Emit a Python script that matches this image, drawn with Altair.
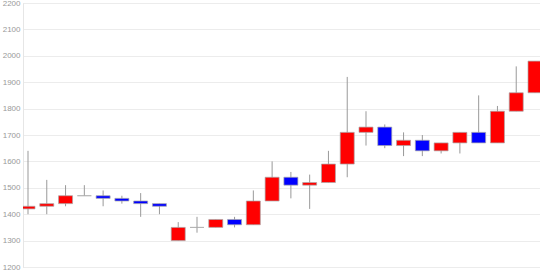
import altair as alt
import pandas as pd

opens  = [1420, 1430, 1440, 1470, 1470, 1460, 1450, 1440, 1300, 1350, 1350, 1380, 1360, 1450,
          1540, 1510, 1520, 1590, 1710, 1730, 1660, 1680, 1640, 1670, 1710, 1670, 1790, 1860]
closes = [1430, 1440, 1470, 1470, 1460, 1450, 1440, 1430, 1350, 1350, 1380, 1360, 1450, 1540,
          1510, 1520, 1590, 1710, 1730, 1660, 1680, 1640, 1670, 1710, 1670, 1790, 1860, 1980]
highs  = [1640, 1530, 1510, 1510, 1490, 1470, 1480, 1440, 1370, 1390, 1380, 1390, 1490, 1600,
          1560, 1550, 1640, 1920, 1790, 1740, 1710, 1700, 1670, 1710, 1850, 1810, 1960, 1980]
lows   = [1400, 1400, 1430, 1470, 1430, 1440, 1390, 1400, 1300, 1330, 1350, 1350, 1360, 1450,
          1460, 1420, 1520, 1540, 1660, 1650, 1620, 1620, 1630, 1630, 1670, 1670, 1790, 1860]
y_ticks = [1200, 1300, 1400, 1500, 1600, 1700, 1800, 1900, 2000, 2100, 2200]

df = pd.DataFrame({
    "i": list(range(len(opens))),
    "open": opens, "close": closes, "high": highs, "low": lows,
})
df["dir"] = ["up" if c > o else ("down" if c < o else "flat") for o, c in zip(opens, closes)]

xs = alt.X("i:Q", scale=alt.Scale(domain=[0, len(opens) - 1], nice=False, zero=False), axis=None)
ysc = alt.Scale(domain=[1200, 2200], nice=False, zero=False)
yaxis = alt.Axis(
    values=y_ticks, format="d", title=None, grid=True, gridColor="#ececec", gridWidth=1,
    domain=True, domainColor="#e6e6e6", ticks=False, labelPadding=3,
    labelFontSize=8, labelColor="#999999", labelFont="Liberation Sans",
    labelOverlap=False, labelFlush=False)

base = alt.Chart(df)

wick = base.mark_rule(color="#999999", strokeWidth=1, clip=True).encode(
    x=xs,
    y=alt.Y("low:Q", scale=ysc, axis=yaxis),
    y2="high:Q",
)

body = base.mark_bar(size=14, orient="vertical", stroke="#aaaaaa", strokeWidth=1,
                     strokeOpacity=0.7, clip=True).encode(
    x=xs,
    y=alt.Y("open:Q", scale=ysc, axis=yaxis),
    y2="close:Q",
    color=alt.Color("dir:N", scale=alt.Scale(domain=["up", "down", "flat"],
                                              range=["#ff0000", "#0000ff", "#999999"]),
                    legend=None),
)

chart = (wick + body).properties(
    width=517, height=264,
    autosize=alt.AutoSizeParams(type="none"),
    padding={"left": 23, "top": 3, "right": 0, "bottom": 3},
).configure_view(stroke=None).configure(background="white")

chart.save("out.html", embed_options={"renderer": "svg", "actions": False})
